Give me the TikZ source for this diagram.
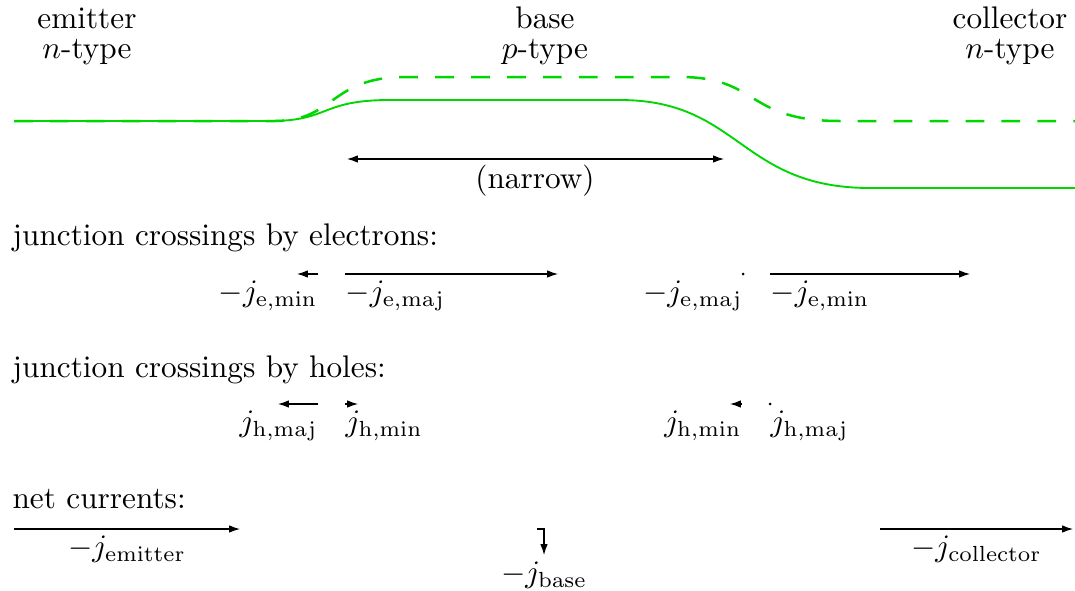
\documentclass[tikz,border=0pt]{standalone}
\usetikzlibrary{arrows.meta,calc}
\definecolor{lgreen}{RGB}{0,215,0}
\begin{document}
\begin{tikzpicture}[x=0.32pt,y=-0.32pt,
  arr/.style={-{Latex[length=3.5pt,width=2.4pt]}, line width=0.35pt},
  txt/.style={inner sep=0pt, anchor=base},
  rowlbl/.style={inner sep=0pt, anchor=base west},
  lblne/.style={inner sep=0pt, anchor=north east},
  lblnw/.style={inner sep=0pt, anchor=north west},
  lbln/.style={inner sep=0pt, anchor=north},
  band/.style={lgreen, line width=0.6pt},
  bandd/.style={lgreen, line width=0.8pt, dash pattern=on 6pt off 5.5pt}]
\useasboundingbox (0,0) rectangle (1075,590);
% top labels
\node[txt] (em) at (87,28) {emitter};
\node[txt] (emt) at (87,58) {$n$-type};
\node[txt] (ba) at (545,28) {base};
\node[txt] (bat) at (545,58) {$p$-type};
\node[txt] (co) at (1010,28) {collector};
\node[txt] (cot) at (1010,58) {$n$-type};
% bands
\draw[bandd] (14,121) -- (275,121) .. controls (335,121) and (330,77) .. (405,77)
  -- (680,77) .. controls (760,77) and (745,121) .. (840,121) -- (1075,121);
\draw[band] (14,121) -- (270,121) .. controls (330,121) and (320,100) .. (390,100)
  -- (620,100) .. controls (740,100) and (740,188) .. (870,188) -- (1075,188);
% narrow
\coordinate (nl) at (347,159);
\coordinate (nr) at (724,159);
\coordinate (nm1) at (502,159);
\coordinate (nm2) at (569,159);
\draw[arr] (nm2) -- (nl);
\draw[arr] (nm1) -- (nr);
\node[txt] (narrow) at (535,188) {(narrow)};
% electrons
\node[rowlbl] (rel) at (12,245) {junction crossings by electrons:};
\coordinate (a1) at (318,274); \coordinate (a1e) at (297,274);
\coordinate (a2) at (345,274); \coordinate (a2e) at (558,274);
\coordinate (a3) at (743,274);
\coordinate (a4) at (770,274); \coordinate (a4e) at (970,274);
\draw[arr] (a1) -- (a1e);
\draw[arr] (a2) -- (a2e);
\fill (a3) circle (1.5);
\draw[arr] (a4) -- (a4e);
\node[lblne] (l1) at ([yshift=-2pt]a1) {$-j_{\mathrm{e,min}}$};
\node[lblnw] (l2) at ([yshift=-2pt]a2) {$-j_{\mathrm{e,maj}}$};
\node[lblne] (l3) at ([yshift=-2pt]a3) {$-j_{\mathrm{e,maj}}$};
\node[lblnw] (l4) at ([yshift=-2pt]a4) {$-j_{\mathrm{e,min}}$};
% holes
\node[rowlbl] (rho) at (12,377) {junction crossings by holes:};
\coordinate (b1) at (318,404); \coordinate (b1e) at (278,404);
\coordinate (b2) at (345,404); \coordinate (b2e) at (358,404);
\coordinate (b3) at (742,404); \coordinate (b3e) at (730,404);
\coordinate (b4) at (770,404);
\draw[arr] (b1) -- (b1e);
\draw[arr] (b2) -- (b2e);
\draw[arr] (b3) -- (b3e);
\fill (b4) circle (1.5);
\node[lblne] (m1) at ([yshift=-2pt]b1) {$j_{\mathrm{h,maj}}$};
\node[lblnw] (m2) at ([yshift=-2pt]b2) {$j_{\mathrm{h,min}}$};
\node[lblne] (m3) at ([yshift=-2pt]b3) {$j_{\mathrm{h,min}}$};
\node[lblnw] (m4) at ([yshift=-2pt]b4) {$j_{\mathrm{h,maj}}$};
% net
\node[rowlbl] (rnet) at (12,508) {net currents:};
\coordinate (c1) at (14,529); \coordinate (c1e) at (240,529);
\coordinate (c2) at (537,529); \coordinate (c2e) at (544,555);
\coordinate (c3) at (880,529); \coordinate (c3e) at (1073,529);
\draw[arr] (c1) -- (c1e);
\draw[arr] (c2) -| (c2e);
\draw[arr] (c3) -- (c3e);
\node[lbln] (n1) at ([yshift=-2pt]$(c1)!0.5!(c1e)$) {$-j_{\mathrm{emitter}}$};
\node[lbln] (n2) at ([yshift=-2pt]c2e) {$-j_{\mathrm{base}}$};
\node[lbln] (n3) at ([yshift=-2pt]$(c3)!0.5!(c3e)$) {$-j_{\mathrm{collector}}$};
\end{tikzpicture}
\end{document}
